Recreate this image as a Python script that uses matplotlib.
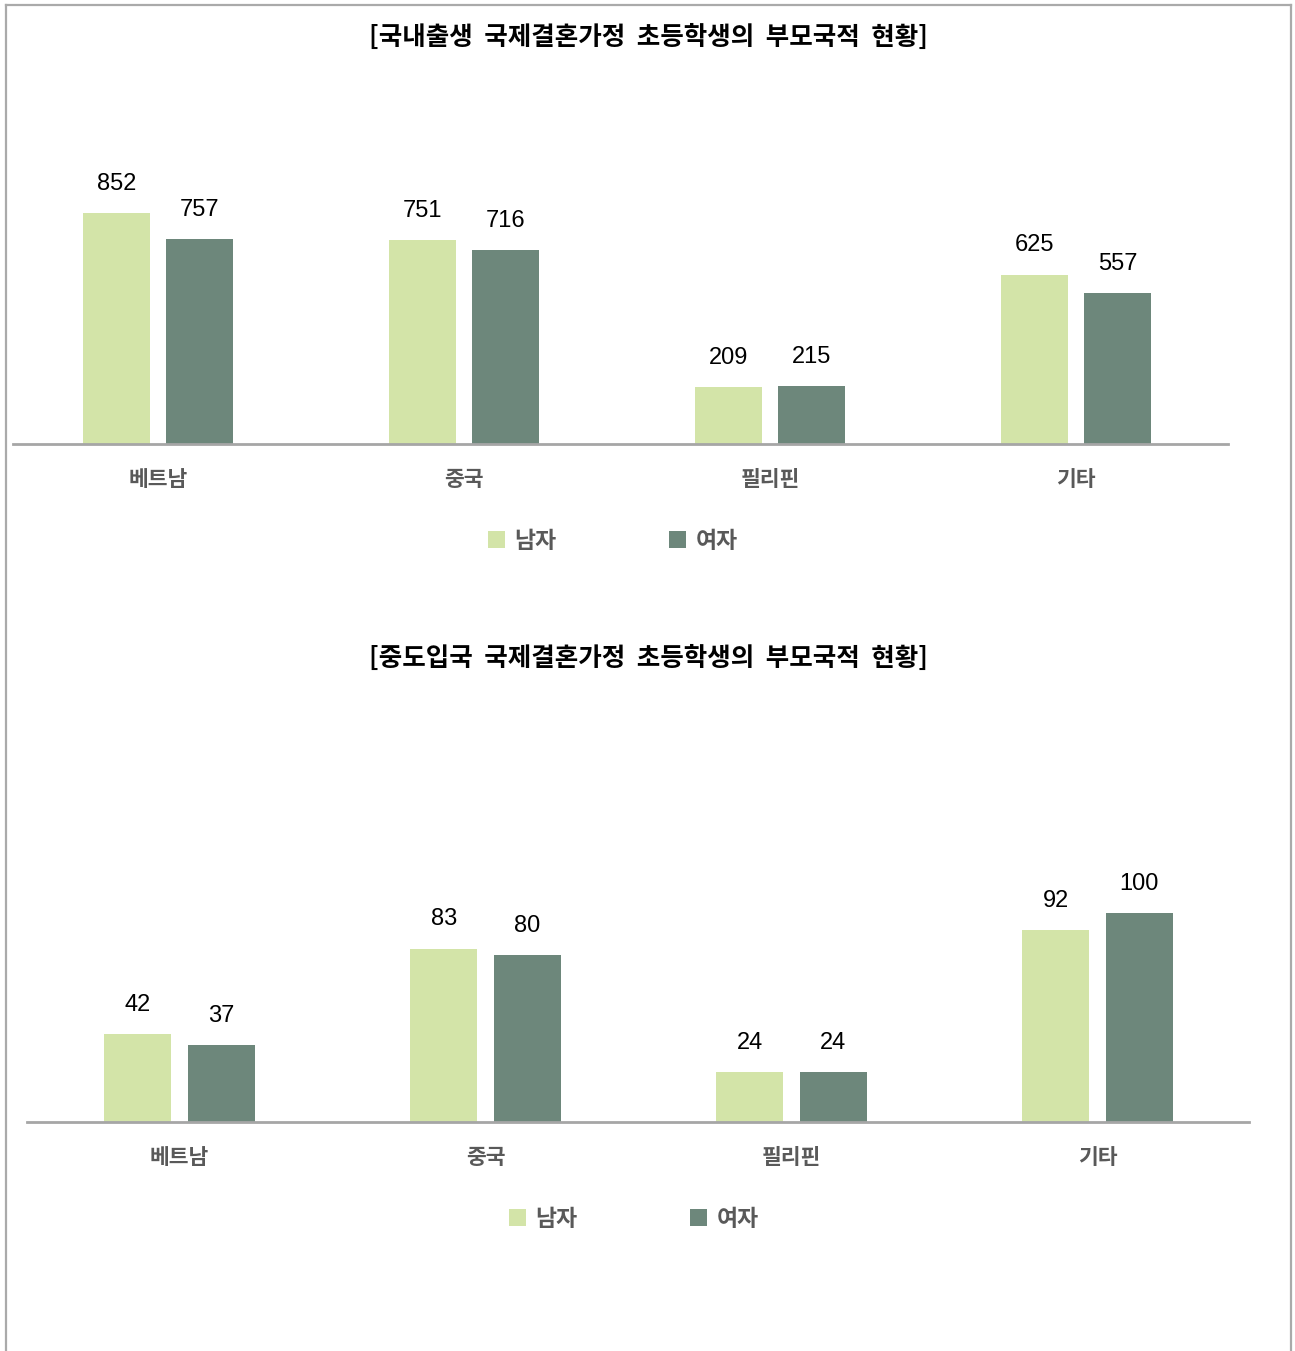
import numpy as np
import matplotlib
matplotlib.use('Agg')
import matplotlib.pyplot as plt
from matplotlib.patches import Patch
from matplotlib.lines import Line2D

plt.rcParams['font.family'] = ['Noto Sans CJK KR', 'DejaVu Sans']

categories = ['베트남', '중국', '필리핀', '기타']
series_names = ['남자', '여자']
born_male = [852, 751, 209, 625]
born_female = [757, 716, 215, 557]
entry_male = [42, 83, 24, 92]
entry_female = [37, 80, 24, 100]
titles = ['[국내출생  국제결혼가정  초등학생의  부모국적  현황]',
          '[중도입국  국제결혼가정  초등학생의  부모국적  현황]']

c_male = '#D3E4A8'
c_female = '#6D877B'
W, H = 1295, 1351

fig = plt.figure(figsize=(W / 100, H / 100), dpi=100)

# page border (left, top, right)
fig.add_artist(Line2D([6 / W, 6 / W], [0, 1 - 5 / H], color='#AAAAAA', lw=1.6))
fig.add_artist(Line2D([6 / W, 1291 / W], [1 - 5 / H, 1 - 5 / H], color='#AAAAAA', lw=1.6))
fig.add_artist(Line2D([1291 / W, 1291 / W], [0, 1 - 5 / H], color='#AAAAAA', lw=1.6))


def panel(x0, x1, base, top, center0, ymax, male, female, title, title_y, legend_x):
    ax = fig.add_axes([x0 / W, 1 - base / H, (x1 - x0) / W, (base - top) / H])
    x = np.arange(len(categories))
    bw = 0.219
    off = 0.1365
    b1 = ax.bar(x - off, male, bw, color=c_male)
    b2 = ax.bar(x + off, female, bw, color=c_female)
    for bars, vals in ((b1, male), (b2, female)):
        for b, v in zip(bars, vals):
            ax.annotate(str(v), (b.get_x() + b.get_width() / 2, v),
                        xytext=(0, 21), textcoords='offset points',
                        ha='center', va='center', fontsize=17,
                        family='Liberation Sans', color='black')
    ax.set_xlim((x0 - center0) / 306, (x1 - center0) / 306)
    ax.set_ylim(0, ymax)
    for s in ('left', 'right', 'top'):
        ax.spines[s].set_visible(False)
    ax.spines['bottom'].set_color('#A6A6A6')
    ax.spines['bottom'].set_linewidth(2)
    ax.set_yticks([])
    ax.set_xticks(x)
    ax.set_xticklabels(categories, fontsize=15.5, color='#595959', fontweight='bold')
    ax.tick_params(axis='x', length=0, pad=18)
    fig.text(648 / W, 1 - title_y / H, title, ha='center', va='center',
             fontsize=18.4, fontweight='bold', color='black')
    handles = [Patch(facecolor=c_male, edgecolor='none'),
               Patch(facecolor=c_female, edgecolor='none')]
    leg = fig.legend(handles, series_names, loc='center', ncol=2,
                     bbox_to_anchor=(legend_x / W, 1 - (base + 97) / H),
                     frameon=False, handlelength=0.75, handleheight=0.75,
                     handletextpad=0.4, columnspacing=4.9,
                     prop={'size': 16.5, 'weight': 'bold'})
    for t in leg.get_texts():
        t.set_color('#595959')
    return ax


panel(13, 1228, 444, 70, 158, 374 / 0.2711, born_male, born_female, titles[0], 37, 613)
panel(27, 1249, 1122, 690, 179.5, 432 / 2.09, entry_male, entry_female, titles[1], 658, 634)

fig.savefig('out.png', dpi=100)
